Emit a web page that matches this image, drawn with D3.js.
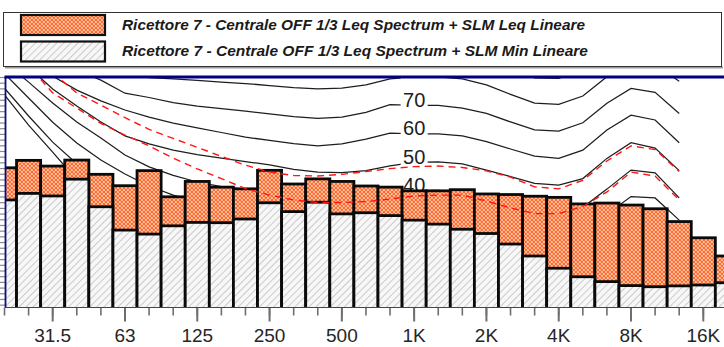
<!DOCTYPE html>
<html>
<head>
<meta charset="utf-8">
<script src="https://cdn.jsdelivr.net/npm/d3@7"></script>
<style>
  body { margin: 0; background: #fff; }
  svg { display: block; font-family: "Liberation Sans", Arial, sans-serif; }
</style>
</head>
<body>
<svg id="chart" width="724" height="347"></svg>
<script>
// 1/3 octave band centres (nominal)
const bands = ["20","25","31.5","40","50","63","80","100","125","160","200","250","315","400","500",
  "630","800","1K","1.25K","1.6K","2K","2.5K","3.15K","4K","5K","6.3K","8K","10K","12.5K","16K","20K"];
const labelledBands = ["31.5","63","125","250","500","1K","2K","4K","8K","16K"];

// Spectrum levels, dB
const leqLevels = [48.1, 50.7, 48.7, 50.8, 45.8, 41.8, 47.1, 37.9, 43.3, 41.3, 40.7, 47.2, 42.4, 44.2, 43.3,
  41.7, 41.3, 40.0, 40.0, 40.4, 38.9, 38.7, 38.1, 37.7, 35.4, 35.7, 35.0, 33.7, 29.2, 23.5, 17.1];
const minLevels = [36.8, 39.1, 38.2, 44.1, 34.4, 26.2, 24.8, 27.7, 28.9, 28.8, 30.1, 35.8, 32.7, 36.0, 31.9,
  32.3, 31.3, 29.7, 28.3, 26.5, 25.0, 21.3, 17.1, 12.8, 9.8, 8.1, 6.7, 6.3, 6.6, 6.9, 7.7];

// Equal-loudness contours, 20 Hz .. 12.5 kHz, dB
const phon90 = [99, 98, 97, 96, 95, 94, 93, 92, 91, 90, 89.5, 89, 88.5, 88, 88.3, 89, 89.6, 90, 90, 89.3,
  87.2, 83.6, 79.7, 79.5, 82.6, 89.5, 95, 94, 88.5];
const phon80 = [90, 88, 86, 84.5, 83, 81.5, 79.8, 79.3, 78.8, 78.2, 77.7, 77.0, 76.3, 75.8, 76.1, 77.2, 79.3,
  80.0, 80.0, 79.3, 77.2, 73.9, 70.8, 70.4, 73.3, 80.1, 85.5, 84.3, 78.5];
const phon70 = [88, 86.5, 85, 82.5, 78.9, 74.3, 72.8, 71.0, 69.8, 68.9, 68.0, 67.0, 66.1, 65.5, 65.9, 67.6,
  70.3, 70.0, 70.0, 69.1, 67.2, 64.2, 61.4, 61.0, 63.9, 70.8, 76.0, 74.6, 67.2];
const phon60 = [89.7, 85.8, 80.3, 75.4, 71.6, 68.4, 65.9, 63.8, 62.1, 60.5, 58.9, 57.7, 56.6, 55.8, 56.5,
  58.2, 60.3, 60.0, 60.0, 59.3, 57.3, 54.7, 52.2, 51.4, 54.3, 61.4, 66.6, 64.9, 56.9];
const phon50 = [92, 83.5, 75.8, 69.8, 64.2, 59.3, 56.5, 54.3, 52.7, 51.5, 50.3, 49.1, 47.5, 46.6, 46.4, 47.1,
  48.8, 50.0, 50.2, 49.5, 47.3, 45.0, 42.6, 42.0, 44.3, 51.4, 56.9, 55.0, 47.1];
const phon40 = [85.3, 78.2, 70.9, 64.2, 58.6, 52.6, 48.4, 45.4, 43.1, 41.5, 40.5, 39.8, 39.0, 38.5, 38.4,
  38.8, 39.6, 40.0, 40.2, 39.4, 37.2, 34.6, 32.2, 31.6, 34.2, 40.6, 47.3, 46.3, 37.5];
const phon30 = [81.2, 72.6, 64.1, 56.8, 50.8, 45.9, 41.7, 38.5, 36.1, 34.0, 32.2, 30.8, 29.7, 29.0, 28.8,
  29.2, 29.8, 30.0, 30.1, 29.4, 27.3, 24.7, 22.3, 21.7, 24.0, 31.8, 38.0, 37.5, 29.7];
const phon20 = [76.1, 66.3, 57.1, 49.5, 43.0, 37.8, 33.5, 30.0, 27.3, 25.2, 23.6, 22.4, 21.2, 20.5, 20.2,
  20.0, 20.0, 20.0, 20.0, 19.3, 17.2, 14.6, 12.2, 11.6, 13.8, 21.6, 28.0, 27.5, 20.5];
const phon10 = [73.7, 63.1, 53.6, 43.8, 36.5, 30.5, 25.5, 21.5, 18.5, 16.2, 14.5, 13.2, 12.0, 11.0, 10.5,
  10.2, 10.0, 10.0, 10.0, 9.3, 7.2, 4.6, 2.2, 1.6, 3.8, 11.6, 18.0, 17.5, 10.5];
const contourLabels = [80, 70, 60, 50, 40];

// Loudness contours of the two measured spectra (dashed)
const loudnessLeq = [94, 88, 81.5, 74.4, 70.1, 65.7, 61.6, 58.4, 55.3, 52.1, 49.0, 46.6, 45.4, 45.2, 45.8,
  46.8, 47.8, 48.5, 48.7, 48.2, 47.0, 44.8, 41.4, 40.7, 43.7, 50.5, 55.8, 54.5, 46.8];
const loudnessMin = [90, 84, 74.4, 69.1, 63.7, 59.6, 55.8, 51.5, 47.7, 44.3, 40.8, 38.5, 36.8, 35.9, 35.9,
  36.2, 37.1, 38.2, 38.5, 38.5, 36.4, 34.0, 32.0, 32.0, 34.5, 39.6, 46.6, 45.2, 36.8];

const legendItems = [
  "Ricettore 7 - Centrale OFF 1/3 Leq Spectrum + SLM Leq Lineare",
  "Ricettore 7 - Centrale OFF 1/3 Leq Spectrum + SLM Min Lineare"
];

const svg = d3.select("#chart");
const W = 724;
const plot = { left: 5, top: 77, bottom: 307.5 };

const x = d3.scaleBand().domain(bands).range([-7.55, 739.45]).padding(0);
const bw = x.bandwidth();
const cx = b => x(b) + bw / 2;
const y = d3.scaleLinear().domain([-1, 80]).range([plot.bottom, plot.top]);

// patterns
const defs = svg.append("defs");
const cross = defs.append("pattern").attr("id", "crossOrange")
  .attr("patternUnits", "userSpaceOnUse").attr("width", 4).attr("height", 4);
cross.append("rect").attr("width", 4).attr("height", 4).attr("fill", "#ffffff");
cross.append("path").attr("d", "M0,0 L4,4 M4,0 L0,4 M-1,3 L1,5 M3,-1 L5,1 M-1,1 L1,-1 M3,5 L5,3")
  .attr("stroke", "#ff6a28").attr("stroke-width", 1.4);

const hatch = defs.append("pattern").attr("id", "hatchGrey")
  .attr("patternUnits", "userSpaceOnUse").attr("width", 5).attr("height", 5)
  .attr("patternTransform", "rotate(45)");
hatch.append("rect").attr("width", 5).attr("height", 5).attr("fill", "#f7f7f7");
hatch.append("line").attr("x1", 0).attr("y1", 0).attr("x2", 0).attr("y2", 5)
  .attr("stroke", "#a6a6a6").attr("stroke-width", 1.1);

defs.append("clipPath").attr("id", "plotClip")
  .append("rect").attr("x", plot.left).attr("y", plot.top)
  .attr("width", W - plot.left + 20).attr("height", plot.bottom - plot.top);

// legend
const lg = svg.append("g");
lg.append("line").attr("x1", 5).attr("x2", 723).attr("y1", 67.5).attr("y2", 67.5)
  .attr("stroke", "#9a9a9a").attr("stroke-width", 2);
lg.append("rect").attr("x", 3.5).attr("y", 12.5).attr("width", 718).attr("height", 54)
  .attr("fill", "#fff").attr("stroke", "#333").attr("stroke-width", 1);
const fills = ["url(#crossOrange)", "url(#hatchGrey)"];
legendItems.forEach((t, k) => {
  const yy = 15 + k * 26.5;
  lg.append("rect").attr("x", 21).attr("y", yy).attr("width", 84).attr("height", 20)
    .attr("fill", fills[k]).attr("stroke", "#111").attr("stroke-width", 2.2);
  lg.append("text").attr("x", 122).attr("y", yy + 14.5)
    .attr("font-size", 15).attr("font-weight", "bold").attr("font-style", "italic")
    .attr("fill", "#1a1a1a")
    .attr("textLength", k === 0 ? 463 : 466).attr("lengthAdjust", "spacingAndGlyphs")
    .text(t);
});

// plot contents
const g = svg.append("g").attr("clip-path", "url(#plotClip)");
const line = d3.line().x((d, i) => cx(bands[i])).y(d => y(d));

[phon90, phon80, phon70, phon60, phon50, phon40, phon30, phon20, phon10].forEach(c => {
  g.append("path").attr("d", line(c)).attr("fill", "none")
    .attr("stroke", "#1e1e1e").attr("stroke-width", 1.25);
});

// contour labels at 1 kHz
contourLabels.forEach(p => {
  const lx = cx("1K"), ly = y(p) + 1.3;
  g.append("rect").attr("x", lx - 13.5).attr("y", ly - 15.5).attr("width", 27).attr("height", 17)
    .attr("fill", "#fff");
  g.append("text").attr("x", lx).attr("y", ly).attr("text-anchor", "middle")
    .attr("font-size", 20).attr("fill", "#1e1e1e").text(p);
});

// bars
g.selectAll("rect.leq").data(bands).join("rect").attr("class", "leq")
  .attr("x", b => x(b)).attr("width", bw)
  .attr("y", (b, i) => y(leqLevels[i])).attr("height", (b, i) => y(-1) - y(leqLevels[i]) + 3)
  .attr("fill", "url(#crossOrange)").attr("stroke", "#0a0a0a").attr("stroke-width", 2.8);
g.selectAll("rect.min").data(bands).join("rect").attr("class", "min")
  .attr("x", b => x(b)).attr("width", bw)
  .attr("y", (b, i) => y(minLevels[i])).attr("height", (b, i) => y(-1) - y(minLevels[i]) + 3)
  .attr("fill", "url(#hatchGrey)").attr("stroke", "#0a0a0a").attr("stroke-width", 2.8);

[loudnessLeq, loudnessMin].forEach(c => {
  g.append("path").attr("d", line(c)).attr("fill", "none")
    .attr("stroke", "#ff1414").attr("stroke-width", 1.4).attr("stroke-dasharray", "7,5");
});

// axes
const ax = svg.append("g").attr("transform", `translate(0,${plot.bottom})`);
ax.call(d3.axisBottom(x).tickValues(bands).tickSize(8).tickFormat(""))
  .call(s => s.select(".domain").remove())
  .call(s => s.selectAll(".tick line").attr("stroke", "#6e6e6e").attr("stroke-width", 1.6));
const ax2 = svg.append("g").attr("transform", `translate(0,${plot.bottom})`);
ax2.call(d3.axisBottom(x).tickValues(labelledBands).tickSize(14))
  .call(s => s.select(".domain").remove())
  .call(s => s.selectAll(".tick line").attr("stroke", "#6e6e6e").attr("stroke-width", 2))
  .call(s => s.selectAll(".tick text").attr("y", 21.5).attr("font-size", 19)
    .attr("font-family", "'Liberation Sans', Arial, sans-serif").attr("fill", "#262626"));
svg.append("line").attr("x1", plot.left).attr("x2", W).attr("y1", plot.bottom).attr("y2", plot.bottom)
  .attr("stroke", "#3a3aa0").attr("stroke-width", 1);

const ay = svg.append("g").attr("transform", `translate(${plot.left},0)`);
ay.call(d3.axisLeft(y).tickValues(d3.range(0, 81, 2)).tickSize(5).tickFormat(""))
  .call(s => s.select(".domain").remove())
  .call(s => s.selectAll(".tick line").attr("stroke", "#8a8a8a").attr("stroke-width", 1.2));
svg.append("line").attr("x1", plot.left + 0.5).attr("x2", plot.left + 0.5)
  .attr("y1", plot.top).attr("y2", plot.bottom)
  .attr("stroke", "#0b0b8a").attr("stroke-width", 1.8);
svg.append("line").attr("x1", plot.left - 0.5).attr("x2", W).attr("y1", plot.top).attr("y2", plot.top)
  .attr("stroke", "#000080").attr("stroke-width", 3);
</script>
</body>
</html>
